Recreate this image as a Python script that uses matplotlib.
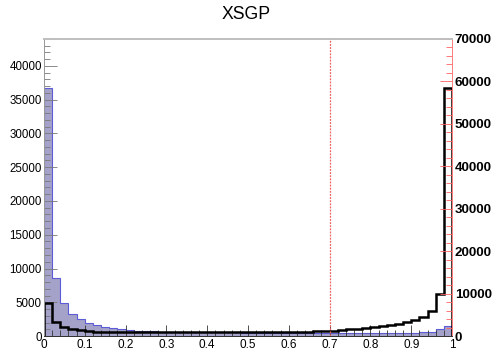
import numpy as np
import matplotlib
matplotlib.use("Agg")
import matplotlib.pyplot as plt
from matplotlib.ticker import MultipleLocator, FuncFormatter

plt.rcParams['font.family'] = ['Liberation Sans', 'DejaVu Sans']

# 50 bins on [0, 1]
edges = np.linspace(0.0, 1.0, 51)

# filled histogram (left axis)
blue_counts = [36700, 8550, 4930, 3300, 2560, 1970, 1580, 1300, 1120, 980,
               870, 790, 720, 670, 630, 600, 580, 560, 550, 540,
               530, 530, 560, 540, 520, 520, 510, 510, 500, 500,
               500, 500, 500, 490, 490, 490, 480, 480, 480, 480,
               470, 470, 470, 470, 480, 500, 540, 620, 1000, 1450]

# line histogram (right axis)
black_counts = [7850, 3220, 2200, 1650, 1300, 1150, 1050, 980, 930, 900,
                880, 870, 860, 860, 850, 850, 850, 850, 850, 860,
                860, 870, 880, 890, 900, 910, 920, 930, 950, 970,
                990, 1020, 1060, 1110, 1170, 1250, 1380, 1550, 1720, 1900,
                2100, 2300, 2550, 2850, 3250, 3770, 4550, 5960, 9830, 58400]

cut_value = 0.7
left_max = 44000
right_max = 70000

fig = plt.figure(figsize=(4.92, 3.51), dpi=100)
ax = fig.add_axes([0.0894, 0.0427, 0.8293, 0.8463])

ax.stairs(blue_counts, edges, fill=True, color='#a4a2c8')
ax.stairs(blue_counts, edges, color='#5c5cd6', lw=0.8)
ax.set_xlim(0, 1)
ax.set_ylim(0, left_max)

ax2 = ax.twinx()
ax2.stairs(black_counts, edges, color='black', lw=1.8)
ax2.set_ylim(0, right_max)
ax2.axvline(cut_value, color='#f06060', lw=0.9, ls=(0, (1.5, 1)))

# ticks
ax.xaxis.set_major_locator(MultipleLocator(0.1))
ax.xaxis.set_minor_locator(MultipleLocator(0.02))
ax.xaxis.set_major_formatter(FuncFormatter(lambda v, p: f"{v:g}"))
ax.yaxis.set_major_locator(MultipleLocator(5000))
ax.yaxis.set_minor_locator(MultipleLocator(1000))
ax.tick_params(axis='x', which='major', direction='in', length=8, width=0.6,
               labelsize=8.5, pad=2, color='#333333', top=False)
ax.tick_params(axis='x', which='minor', direction='in', length=4, width=0.6,
               color='#333333', top=False)
ax.tick_params(axis='y', which='major', direction='in', length=9, width=0.6,
               labelsize=8.3, pad=1.5, color='#777777')
ax.tick_params(axis='y', which='minor', direction='in', length=4.5, width=0.6,
               color='#777777')

ax2.yaxis.set_major_locator(MultipleLocator(10000))
ax2.yaxis.set_minor_locator(MultipleLocator(2000))
ax2.tick_params(axis='y', which='major', direction='in', length=9, width=0.6,
                labelsize=9.6, pad=2, color='#ff6060')
ax2.tick_params(axis='y', which='minor', direction='in', length=4.5, width=0.6,
                color='#ff6060')
for lbl in ax2.get_yticklabels():
    lbl.set_fontweight('bold')

for a in (ax, ax2):
    a.spines['top'].set_color('#c0c0c0')
    a.spines['top'].set_linewidth(1.4)
    a.spines['left'].set_color('#999999')
    a.spines['left'].set_linewidth(0.7)
    a.spines['right'].set_color('#ff8080')
    a.spines['right'].set_linewidth(0.7)
    a.spines['bottom'].set_color('#333333')
    a.spines['bottom'].set_linewidth(0.7)

fig.text(0.5, 0.96, "XSGP", ha='center', va='center', fontsize=12.7)

fig.savefig("out.png", dpi=100)
